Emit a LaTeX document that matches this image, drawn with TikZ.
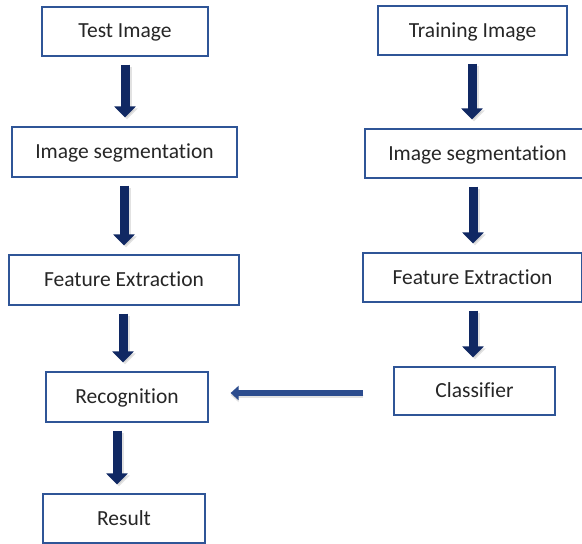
\documentclass[tikz,border=0pt]{standalone}
\usepackage{fontspec}
\setmainfont{Carlito}[Ligatures=NoCommon]
\usetikzlibrary{arrows.meta,calc}
\definecolor{boxline}{HTML}{2F5597}
\definecolor{txt}{HTML}{262626}
\definecolor{navy}{HTML}{102863}
\definecolor{midblue}{HTML}{2C4C8E}
\tikzset{
  stepbox/.style={draw=boxline, line width=1.2pt, fill=white, text=txt,
    inner sep=0pt, text depth=1pt, font=\fontsize{21.5}{24}\selectfont},
  downarrow/.style={draw=navy, line width=9pt,
    -{Triangle[width=21pt,length=11pt]}, shorten <=8pt, shorten >=9pt},
  leftarrow/.style={draw=midblue, line width=6.5pt,
    -{Triangle[width=14pt,length=8pt]}},
  arrowshade/.style={draw=black!25, opacity=0.45},
}
\begin{document}
\begin{tikzpicture}[x=1pt,y=-1pt]
\useasboundingbox (0,0) rectangle (582,544);
% left column: test path
\node[stepbox, minimum width=166pt, minimum height=49pt] (test) at (125,31.5) {Test Image};
\node[stepbox, minimum width=225pt, minimum height=50pt] (segL) at (124.5,152) {Image segmentation};
\node[stepbox, minimum width=230pt, minimum height=50pt] (featL) at (124,280) {Feature Extraction};
\node[stepbox, minimum width=162pt, minimum height=50pt] (rec) at (127,397) {Recognition};
\node[stepbox, minimum width=162pt, minimum height=49pt] (res) at (124,518.5) {Result};
% right column: training path
\node[stepbox, minimum width=189pt, minimum height=49pt] (train) at (472.5,30.5) {Training Image};
\node[stepbox, minimum width=225pt, minimum height=49pt] (segR) at (477.5,153.5) {Image segmentation};
\node[stepbox, minimum width=219pt, minimum height=49pt] (featR) at (472.5,277.5) {Feature Extraction};
\node[stepbox, minimum width=161pt, minimum height=48pt] (cls) at (474.5,391) {Classifier};
% vertical block arrows with a soft shade, kept straight down
\foreach \a/\b/\dx in {test/segL/0, segL/featL/-0.5, featL/rec/-1, rec/res/-10,
                       train/segR/-0.5, segR/featR/-4.5, featR/cls/0.5} {
  \coordinate (s) at ($(\a.south)+(\dx,0)$);
  \draw[downarrow, arrowshade] ($(s)+(2,2)$) -- ($(s |- \b.north)+(2,2)$);
  \draw[downarrow] (s) -- (s |- \b.north);
}
% horizontal arrow from the classifier to recognition
\draw[leftarrow, arrowshade] ($(cls.west)+(-30,4)$) -- ($(rec.east)+(22,-2)$);
\draw[leftarrow] ($(cls.west)+(-30,2)$) -- ($(rec.east)+(22,-4)$);
\end{tikzpicture}
\end{document}
